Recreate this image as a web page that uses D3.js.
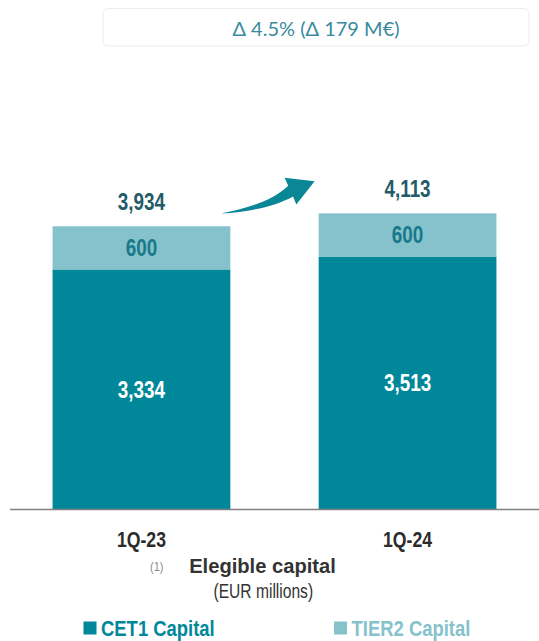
<!DOCTYPE html>
<html>
<head>
<meta charset="utf-8">
<script src="https://cdn.jsdelivr.net/npm/d3@7"></script>
<style>
  html, body { margin: 0; padding: 0; background: #ffffff; }
  svg { display: block; }
</style>
</head>
<body>
<svg id="chart" width="539" height="641"></svg>
<script>
// Eligible capital by quarter, EUR millions
const categories = ["1Q-23", "1Q-24"];
const cet1 = [3334, 3513];
const tier2 = [600, 600];
const totals = [3934, 4113];
const seriesNames = ["CET1 Capital", "TIER2 Capital"];
const deltaText = "\u0394 4.5% (\u0394 179 M\u20ac)";

const colors = { cet1: "#00889a", tier2: "#85c2cb" };
const sans = "'Liberation Sans', Arial, sans-serif";
const NARROW = 0.82; // horizontal squeeze giving a condensed face

const svg = d3.select("#chart");

// condensed text: position via translate, squeeze horizontally
function narrowText(sel, xf, yf, k = NARROW) {
  return sel
    .attr("transform", (d, i) => `translate(${xf(d, i)},${yf(d, i)}) scale(${k},1)`)
    .attr("font-family", sans);
}

const x = d3.scaleBand()
  .domain(categories)
  .range([10, 539])
  .paddingInner(0.332)
  .paddingOuter(0.16);

const y = d3.scaleLinear()
  .domain([0, 6000])
  .range([509.5, 77.5]);

const rows = categories.map((c, i) => ({ cat: c, cet1: cet1[i], tier2: tier2[i], total: totals[i] }));
const stack = d3.stack().keys(["cet1", "tier2"])(rows);
const mid = cat => x(cat) + x.bandwidth() / 2;

// stacked bars
svg.append("g").selectAll("g")
  .data(stack)
  .join("g")
  .attr("fill", d => colors[d.key])
  .selectAll("rect")
  .data(d => d)
  .join("rect")
  .attr("x", d => x(d.data.cat))
  .attr("width", x.bandwidth())
  .attr("y", d => y(d[1]))
  .attr("height", d => y(d[0]) - y(d[1]));

// segment labels
stack.forEach(layer => {
  svg.append("g").selectAll("text")
    .data(layer)
    .join("text")
    .call(narrowText, d => mid(d.data.cat), d => (y(d[0]) + y(d[1])) / 2 + 8.2)
    .attr("text-anchor", "middle")
    .attr("font-weight", "bold")
    .attr("font-size", 23)
    .attr("fill", layer.key === "cet1" ? "#ffffff" : "#17798a")
    .text(d => d3.format(",")(d.data[layer.key]));
});

// totals above bars
svg.append("g").selectAll("text")
  .data(rows)
  .join("text")
  .call(narrowText, d => mid(d.cat), d => y(d.total) - 16.5)
  .attr("text-anchor", "middle")
  .attr("font-weight", "bold")
  .attr("font-size", 23)
  .attr("fill", "#245b68")
  .text(d => d3.format(",")(d.total));

// baseline axis
const xAxis = d3.axisBottom(x).tickSize(0).tickPadding(0).tickFormat(() => "");
const axisG = svg.append("g")
  .attr("transform", `translate(0,${y(0)})`)
  .call(xAxis);
axisG.select(".domain").attr("stroke", "#808080").attr("stroke-width", 1.6)
  .attr("d", "M10,0H539");
axisG.selectAll(".tick").append("text")
  .call(narrowText, () => 0, () => 37.2)
  .attr("text-anchor", "middle")
  .attr("font-weight", "bold")
  .attr("font-size", 21.5)
  .attr("fill", "#2b2b2b")
  .text(d => d);

// growth arrow between the two totals
const x0 = x(categories[0]) + x.bandwidth();
const yA = y(totals[0]);
const arrow = d3.path();
arrow.moveTo(x0 - 9, yA - 12.7);
arrow.bezierCurveTo(x0 + 15, yA - 18, x0 + 40, yA - 24, x0 + 57.9, yA - 40.6);
arrow.lineTo(x0 + 54.3, yA - 48.4);
arrow.lineTo(x0 + 84.3, yA - 45);
arrow.lineTo(x0 + 66, yA - 21.7);
arrow.lineTo(x0 + 62.7, yA - 29.8);
arrow.bezierCurveTo(x0 + 45, yA - 20, x0 + 20, yA - 14.5, x0 - 9, yA - 12.7);
arrow.closePath();
svg.append("path").attr("d", arrow.toString()).attr("fill", "#0a8796");

// delta box
svg.append("rect")
  .attr("x", 103).attr("y", 8.5).attr("width", 426).attr("height", 37.5)
  .attr("rx", 5).attr("fill", "#ffffff")
  .attr("stroke", "#ececec").attr("stroke-width", 1);
svg.append("text")
  .attr("x", 316).attr("y", 35.5)
  .attr("text-anchor", "middle")
  .attr("font-family", "Lato, 'Open Sans', sans-serif")
  .attr("font-size", 20)
  .attr("fill", "#3a8a9e")
  .text(deltaText);

// titles
svg.append("text")
  .call(narrowText, () => 262.5, () => 573.3, 0.96)
  .datum(null)
  .attr("text-anchor", "middle")
  .attr("font-weight", "bold")
  .attr("font-size", 21)
  .attr("fill", "#333333")
  .text("Elegible capital");
svg.append("text")
  .call(narrowText, () => 156.7, () => 571, 0.85)
  .attr("text-anchor", "middle")
  .attr("font-size", 13)
  .attr("fill", "#8a8a8a")
  .text("(1)");
svg.append("text")
  .call(narrowText, () => 263.3, () => 597.5, 0.78)
  .attr("text-anchor", "middle")
  .attr("font-size", 20)
  .attr("fill", "#333333")
  .text("(EUR millions)");

// legend
const legendX = [83.5, 334];
const legend = svg.append("g").selectAll("g")
  .data(seriesNames)
  .join("g")
  .attr("transform", (d, i) => `translate(${legendX[i]},621.5)`);
legend.append("rect")
  .attr("width", 13).attr("height", 13)
  .attr("fill", (d, i) => i === 0 ? colors.cet1 : colors.tier2);
legend.append("text")
  .call(narrowText, () => 17.5, () => 14.5)
  .attr("font-weight", "bold")
  .attr("font-size", 22.5)
  .attr("fill", (d, i) => i === 0 ? colors.cet1 : colors.tier2)
  .text(d => d);
</script>
</body>
</html>
